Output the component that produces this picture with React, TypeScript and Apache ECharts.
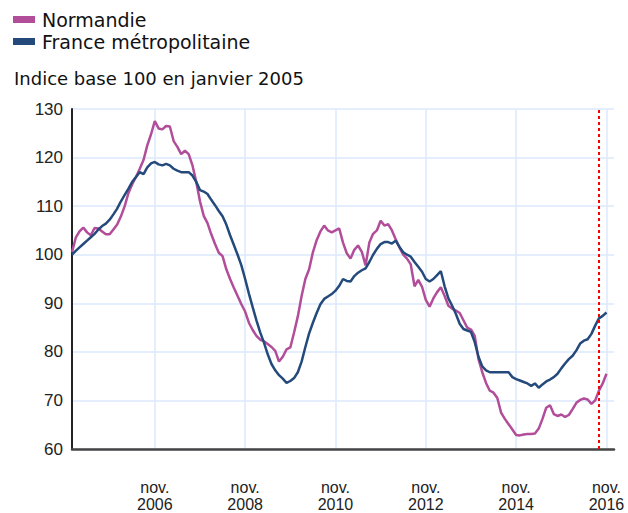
import React, { useEffect, useRef } from "react";
import * as echarts from "echarts";

// ---- data ----
const START_YEAR = 2005;
const N_MONTHS = 145; // Jan 2005 .. Jan 2017
const categories: string[] = Array.from({ length: N_MONTHS }, (_, i) =>
  `${START_YEAR + Math.floor(i / 12)}-${String((i % 12) + 1).padStart(2, "0")}`
);
const xTickCategories = ["2006-11", "2008-11", "2010-11", "2012-11", "2014-11", "2016-11"];
const yMin = 60;
const yMax = 130;
const yStep = 10;
const markerMonth = "2016-09";
const seriesNames = ["Normandie", "France métropolitaine"];
const title = "Indice base 100 en janvier 2005";

const normandie = [
  100.5, 103.5, 104.8, 105.6, 104.6, 104.0, 105.5, 105.4, 104.8, 104.2, 104.2, 105.2,
  106.2, 107.9, 110.0, 112.7, 114.5, 116.0, 117.7, 119.5, 122.5, 124.8, 127.5, 126.0,
  125.8, 126.5, 126.4, 123.4, 122.2, 120.7, 121.4, 120.7, 118.4, 115.0, 111.0, 108.0,
  106.5, 104.2, 102.2, 100.4, 99.7, 97.0, 95.0, 93.2, 91.5, 89.8, 88.3, 86.0,
  84.5, 83.3, 82.5, 82.2, 81.6, 81.0, 80.2, 78.0, 79.0, 80.5, 80.9, 84.0,
  87.3, 91.5, 95.0, 97.0, 100.5, 103.0, 104.8, 106.0, 105.0, 104.6, 105.0, 105.4,
  102.5, 100.3, 99.2, 101.0, 101.9, 100.6, 97.8, 102.5, 104.3, 105.0, 107.0, 106.0,
  106.3, 105.0, 103.2, 101.5, 100.0, 99.2, 98.0, 93.5, 94.8, 93.4, 90.7, 89.3,
  91.0, 92.3, 93.3, 91.5, 89.5, 88.9, 88.5, 88.0, 86.5, 85.0, 84.6, 83.3,
  78.5, 75.8, 73.6, 72.0, 71.6, 70.5, 67.5, 66.2, 65.1, 64.0, 62.9, 62.8,
  63.0, 63.1, 63.1, 63.2, 64.2, 66.2, 68.5, 69.0, 67.2, 66.8, 67.1, 66.6,
  67.0, 68.2, 69.5, 70.1, 70.4, 70.2, 69.3, 70.0, 72.0, 73.5, 75.5,
];

const france = [
  100.0, 100.8, 101.5, 102.2, 102.9, 103.6, 104.3, 105.2, 105.9, 106.4, 107.2, 108.3,
  109.5, 111.0, 112.3, 113.6, 115.0, 116.0, 117.0, 116.6, 118.0, 118.8, 119.1, 118.6,
  118.4, 118.7, 118.4, 117.7, 117.3, 117.0, 117.0, 117.0, 116.3, 115.0, 113.3, 113.0,
  112.5, 111.3, 110.2, 109.0, 107.9, 106.2, 104.0, 102.0, 100.0, 97.8, 95.0, 92.0,
  89.2, 86.5, 84.0, 81.9, 79.5, 77.5, 76.2, 75.2, 74.5, 73.6, 74.0, 74.6,
  75.8, 78.0, 81.0, 83.8, 86.0, 88.0, 89.8, 90.9, 91.4, 91.9, 92.6, 93.6,
  95.0, 94.6, 94.5, 95.6, 96.3, 96.8, 97.2, 98.5, 100.0, 101.2, 102.2, 102.6,
  102.6, 102.3, 102.9, 101.6, 100.5, 100.0, 99.6, 98.5, 97.5, 96.5, 95.0, 94.5,
  95.0, 95.8, 96.6, 93.5, 91.0, 89.5, 87.8, 85.8, 84.7, 84.4, 84.1, 82.0,
  79.0, 77.0, 76.2, 75.8, 75.8, 75.8, 75.8, 75.8, 75.8, 74.8, 74.4, 74.1,
  73.8, 73.5, 73.0, 73.5, 72.6, 73.3, 73.9, 74.3, 74.8, 75.5, 76.6, 77.6,
  78.5, 79.2, 80.3, 81.7, 82.3, 82.6, 83.7, 85.4, 86.9, 87.4, 88.1,
];

const PINK = "#b24d99";
const BLUE = "#244a7c";
const GRID = "#dde9fb";

export default function App() {
  const ref = useRef<HTMLDivElement>(null);

  useEffect(() => {
    if (!ref.current) return;
    const chart = echarts.init(ref.current, undefined, { renderer: "svg" });
    const showTick = (_i: number, v: string) => xTickCategories.includes(v);
    chart.setOption({
      animation: false,
      backgroundColor: "#ffffff",
      title: {
        text: title,
        left: 9,
        top: 64,
        textStyle: {
          fontFamily: "DejaVu Sans",
          fontSize: 18,
          fontWeight: "normal",
          color: "#111",
        },
      },
      legend: {
        orient: "vertical",
        left: 8,
        top: 5,
        itemWidth: 22,
        itemHeight: 7,
        itemGap: 3,
        icon: "rect",
        data: seriesNames,
        textStyle: {
          fontFamily: "DejaVu Sans",
          fontSize: 19,
          color: "#111",
          padding: [0, 0, 0, 2],
        },
      },
      grid: { left: 72, right: 14, top: 109, bottom: 57, containLabel: false },
      xAxis: {
        type: "category",
        data: categories,
        boundaryGap: false,
        axisLine: { show: true, lineStyle: { color: "#444", width: 2.5 } },
        axisTick: { show: false },
        axisLabel: {
          interval: showTick,
          formatter: (v: string) => `nov.\n${v.slice(0, 4)}`,
          fontFamily: "Liberation Sans",
          fontSize: 16,
          lineHeight: 17,
          color: "#222",
          margin: 30,
        },
        splitLine: { show: true, interval: showTick, lineStyle: { color: GRID, width: 1.5 } },
      },
      yAxis: {
        type: "value",
        min: yMin,
        max: yMax,
        interval: yStep,
        axisLine: { show: true, lineStyle: { color: "#222", width: 2 } },
        axisTick: { show: false },
        axisLabel: {
          fontFamily: "Liberation Sans",
          fontSize: 17,
          color: "#222",
          margin: 9,
        },
        splitLine: { show: true, lineStyle: { color: GRID, width: 1.5 } },
      },
      series: [
        {
          name: seriesNames[0],
          type: "line",
          data: normandie,
          showSymbol: false,
          symbol: "none",
          lineStyle: { color: PINK, width: 2.5 },
          itemStyle: { color: PINK },
        },
        {
          name: seriesNames[1],
          type: "line",
          data: france,
          showSymbol: false,
          symbol: "none",
          lineStyle: { color: BLUE, width: 2.5 },
          itemStyle: { color: BLUE },
          markLine: {
            silent: true,
            symbol: ["none", "none"],
            label: { show: false },
            lineStyle: { color: "#ff0000", type: [3, 3], width: 2 },
            data: [{ xAxis: markerMonth }],
          },
        },
      ],
    });
    return () => chart.dispose();
  }, []);

  return (
    <div
      ref={ref}
      style={{ position: "fixed", left: 0, top: 0, width: 628, height: 513 }}
    />
  );
}
